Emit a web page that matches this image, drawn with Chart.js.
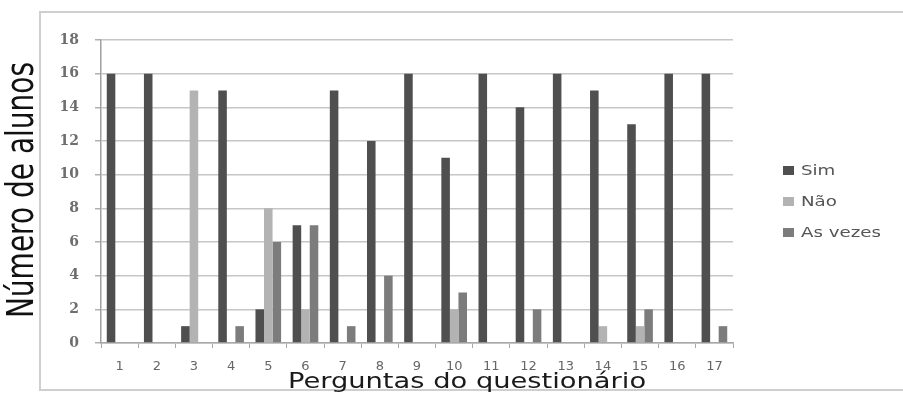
<!DOCTYPE html>
<html>
<head>
<meta charset="utf-8">
<script src="https://cdn.jsdelivr.net/npm/chart.js@4/dist/chart.umd.min.js"></script>
<style>
  html, body { margin: 0; padding: 0; background: #ffffff; }
  #wrap { width: 903px; height: 394px; }
</style>
</head>
<body>
<div id="wrap"><canvas id="c" width="903" height="394"></canvas></div>
<script>
// Questions 1..17 and the number of students per answer
const perguntas = ['1','2','3','4','5','6','7','8','9','10','11','12','13','14','15','16','17'];
const sim     = [16, 16, 1, 15, 2, 7, 15, 12, 16, 11, 16, 14, 16, 15, 13, 16, 16];
const nao     = [0, 0, 15, 0, 8, 2, 0, 0, 0, 2, 0, 0, 0, 1, 1, 0, 0];
const asVezes = [0, 0, 0, 1, 6, 7, 1, 4, 0, 3, 0, 2, 0, 0, 2, 0, 1];
const yTicks  = [0, 2, 4, 6, 8, 10, 12, 14, 16, 18];

const seriesNames  = ['Sim', 'Não', 'As vezes'];
const seriesColors = ['#4f4f4f', '#b3b3b3', '#7c7c7c'];

const TEXT_STRETCH = 1.3;

// Draws text widened horizontally (in its own frame)
function stretchedText(ctx, text, x, y, sx, sy) {
  ctx.save();
  ctx.translate(x, y);
  ctx.scale(sx, sy);
  ctx.fillText(text, 0, 0);
  ctx.restore();
}

const decorations = {
  id: 'decorations',
  beforeDraw(chart) {
    const ctx = chart.ctx;
    ctx.save();
    // outer frame
    ctx.strokeStyle = '#cfcfcf';
    ctx.lineWidth = 2;
    ctx.beginPath();
    ctx.moveTo(40, 391);
    ctx.lineTo(40, 12);
    ctx.lineTo(903, 12);
    ctx.moveTo(40, 390);
    ctx.lineTo(903, 390);
    ctx.stroke();
    ctx.restore();
  },
  afterDraw(chart) {
    const ctx = chart.ctx;
    ctx.save();
    // y axis title
    ctx.fillStyle = '#111111';
    ctx.font = '28px "DejaVu Sans"';
    ctx.textAlign = 'center';
    ctx.textBaseline = 'middle';
    ctx.save();
    ctx.translate(24, 190);
    ctx.rotate(-Math.PI / 2);
    ctx.scale(1, 1.3);
    ctx.fillText('Número de alunos', 0, 0);
    ctx.restore();

    // x axis title
    ctx.fillStyle = '#1a1a1a';
    ctx.font = '21px "DejaVu Sans"';
    ctx.textAlign = 'center';
    ctx.textBaseline = 'alphabetic';
    stretchedText(ctx, 'Perguntas do questionário', 467, 388, TEXT_STRETCH, 1);

    // legend
    const items = chart.data.datasets;
    const startY = 171, stepY = 31;
    ctx.font = '14px "DejaVu Sans"';
    ctx.textAlign = 'left';
    ctx.textBaseline = 'middle';
    items.forEach((ds, i) => {
      const cy = startY + i * stepY;
      ctx.fillStyle = ds.backgroundColor;
      ctx.fillRect(783, cy - 5, 11, 9);
      ctx.fillStyle = '#555555';
      stretchedText(ctx, ds.label, 801, cy, TEXT_STRETCH, 1);
    });
    ctx.restore();
  }
};

new Chart(document.getElementById('c'), {
  type: 'bar',
  data: {
    labels: perguntas,
    datasets: [
      { label: seriesNames[0], data: sim,     backgroundColor: seriesColors[0] },
      { label: seriesNames[1], data: nao,     backgroundColor: seriesColors[1] },
      { label: seriesNames[2], data: asVezes, backgroundColor: seriesColors[2] }
    ]
  },
  options: {
    responsive: false,
    animation: false,
    devicePixelRatio: 1,
    layout: { padding: { left: 40, right: 170, top: 40, bottom: 0 } },
    datasets: { bar: { categoryPercentage: 0.69, barPercentage: 1.0, borderWidth: 0 } },
    plugins: {
      legend: { display: false },
      tooltip: { enabled: false },
      title: { display: false }
    },
    scales: {
      x: {
        afterFit(scale) { scale.height = 51; },
        grid: {
          display: true,
          drawOnChartArea: false,
          drawTicks: true,
          tickLength: 5,
          color: '#a8a8a8',
          lineWidth: 1
        },
        border: { display: true, color: '#a8a8a8', width: 1.5 },
        ticks: {
          padding: 11,
          color: '#666666',
          font: { family: '"DejaVu Sans"', size: 13 },
          maxRotation: 0,
          autoSkip: false
        }
      },
      y: {
        min: 0,
        max: 18,
        afterFit(scale) { scale.width = 61; },
        afterBuildTicks(scale) { scale.ticks = yTicks.map(v => ({ value: v })); },
        grid: {
          color: '#c6c6c6',
          lineWidth: 1.5,
          tickLength: 6,
          tickColor: '#b0b0b0'
        },
        border: { display: true, color: '#a0a0a0', width: 1.5 },
        ticks: {
          padding: 16,
          color: '#6e6e6e',
          font: { family: '"DejaVu Serif"', size: 14, weight: 'bold' }
        }
      }
    }
  },
  plugins: [decorations]
});
</script>
</body>
</html>
